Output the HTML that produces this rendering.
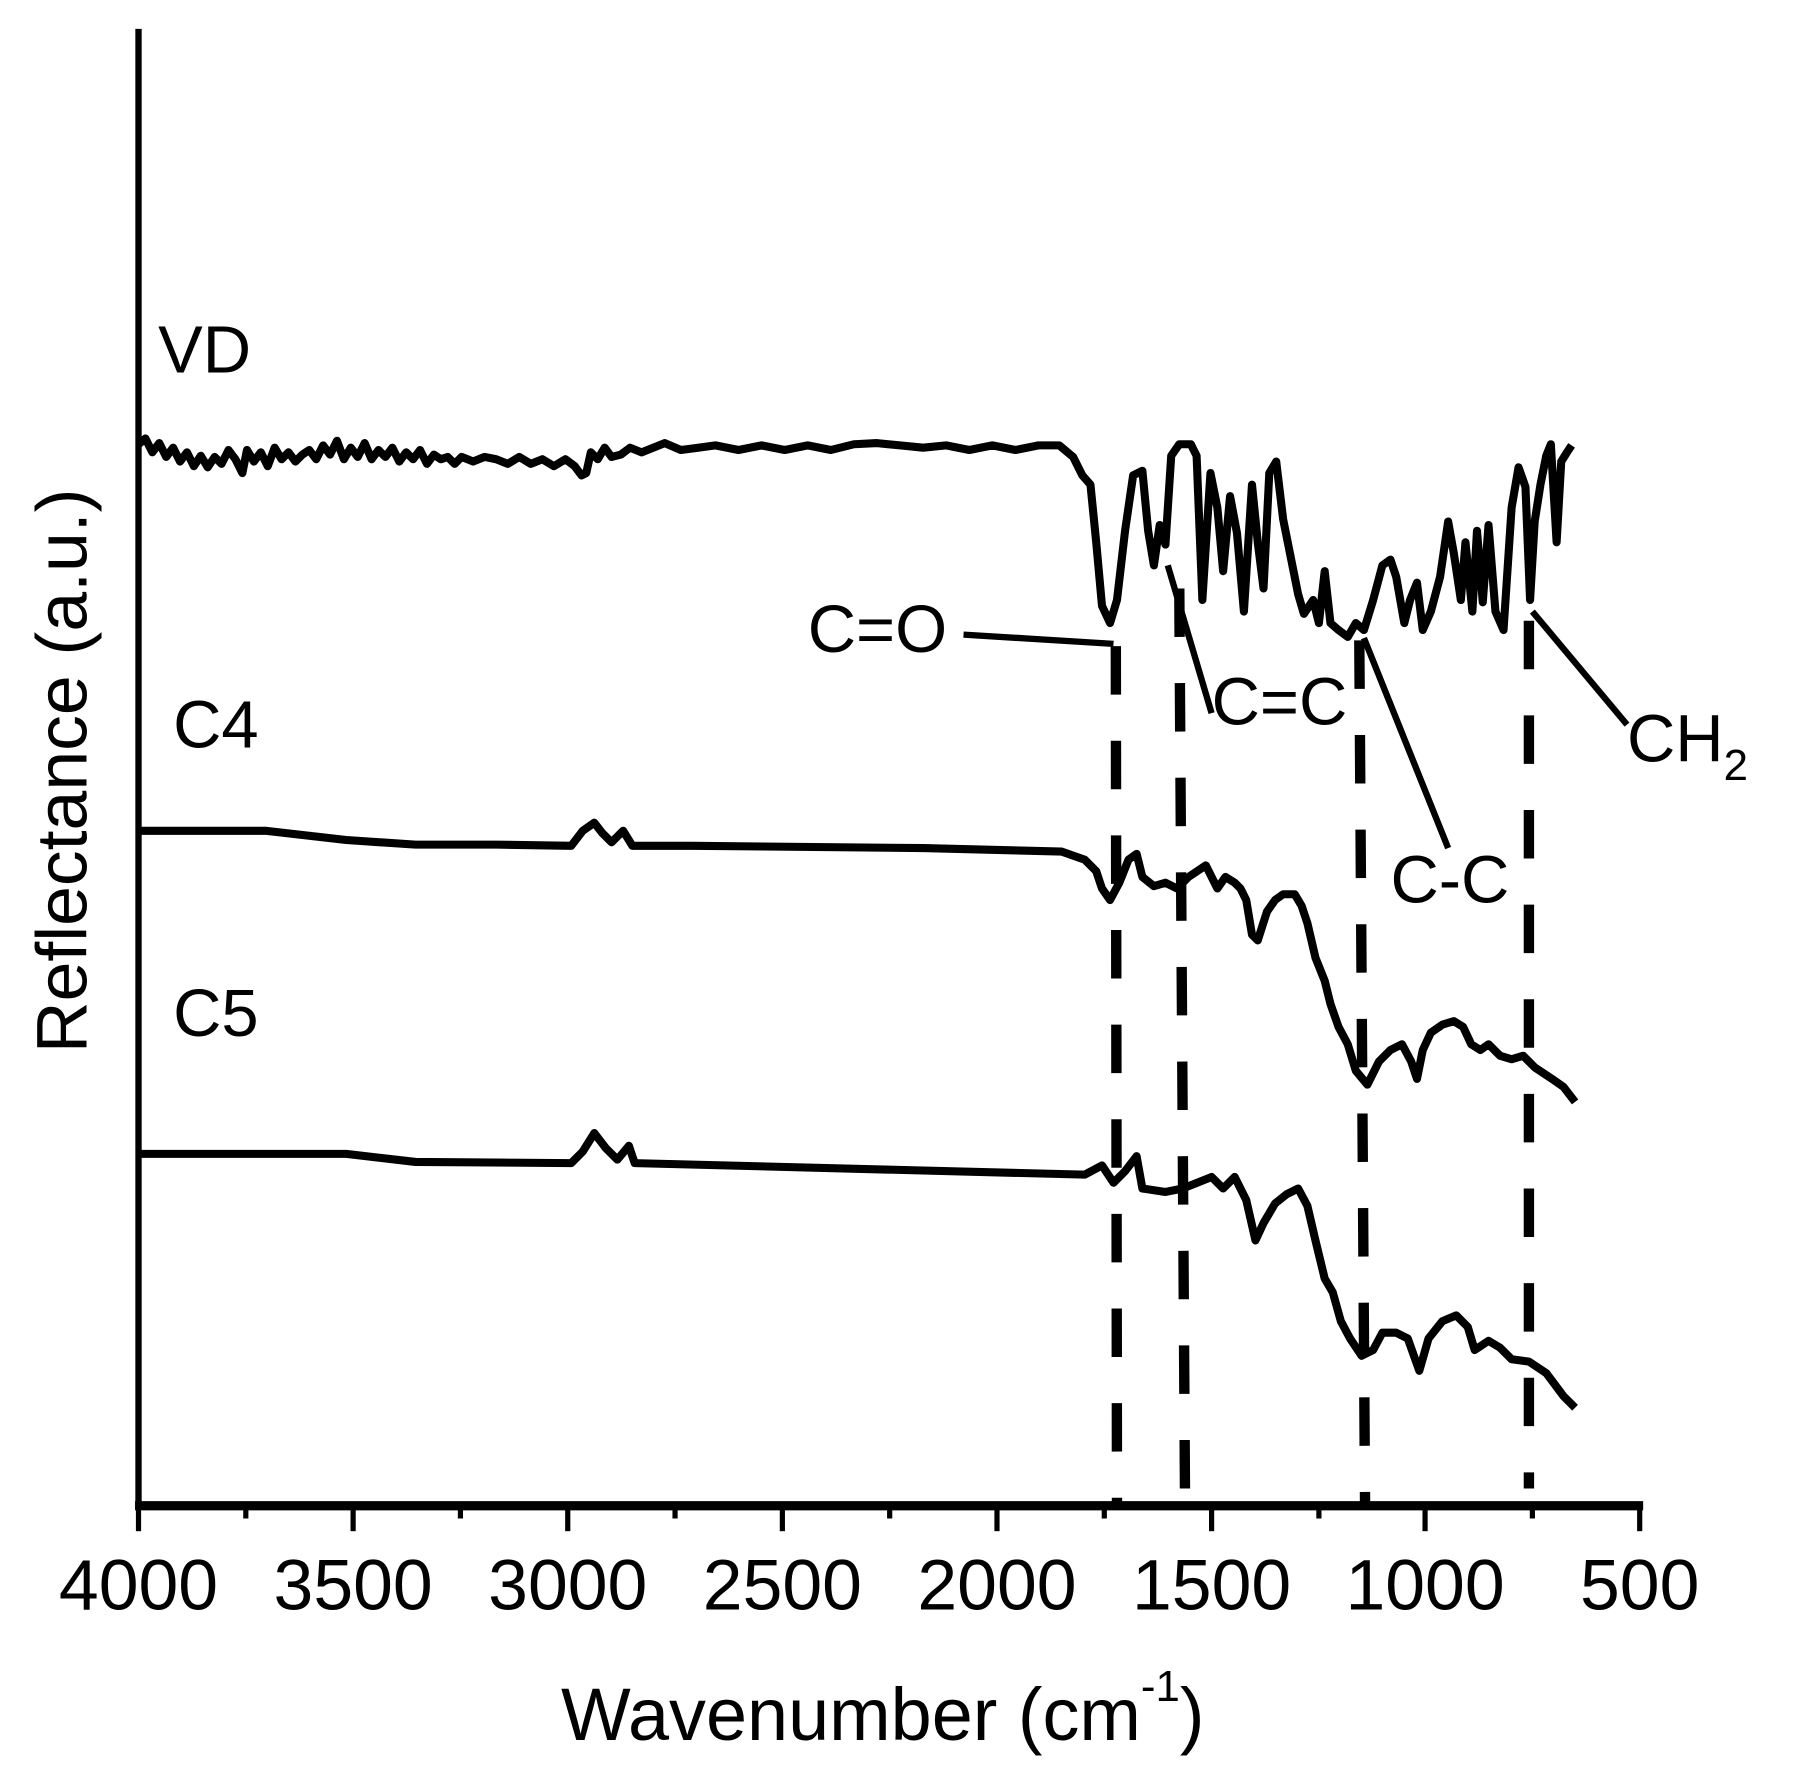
<!DOCTYPE html>
<html><head><meta charset="utf-8"><style>html,body{margin:0;padding:0;background:#fff}svg{display:block}</style></head>
<body>
<svg width="1809" height="1790" viewBox="0 0 1567.7 1551.3" xmlns="http://www.w3.org/2000/svg" font-family="Liberation Sans, Arial, sans-serif">
<rect width="1567.7" height="1551.3" fill="#fff"/>
<g stroke="#000" fill="none" stroke-linejoin="round" stroke-linecap="butt">
<line x1="120" y1="25" x2="120" y2="1308" stroke-width="5.5"/>
<line x1="117" y1="1305" x2="1424" y2="1305" stroke-width="8"/>
<g stroke-width="4.5">
<line x1="120" y1="1305" x2="120" y2="1327"/><line x1="306" y1="1305" x2="306" y2="1327"/><line x1="492" y1="1305" x2="492" y2="1327"/><line x1="678" y1="1305" x2="678" y2="1327"/><line x1="864" y1="1305" x2="864" y2="1327"/><line x1="1050" y1="1305" x2="1050" y2="1327"/><line x1="1235" y1="1305" x2="1235" y2="1327"/><line x1="1421" y1="1305" x2="1421" y2="1327"/>
<line x1="213" y1="1305" x2="213" y2="1316"/><line x1="399" y1="1305" x2="399" y2="1316"/><line x1="585" y1="1305" x2="585" y2="1316"/><line x1="771" y1="1305" x2="771" y2="1316"/><line x1="957" y1="1305" x2="957" y2="1316"/><line x1="1143" y1="1305" x2="1143" y2="1316"/><line x1="1328" y1="1305" x2="1328" y2="1316"/>
</g>
<g stroke-width="9" stroke-dasharray="42,40">
<line x1="967" y1="560" x2="968" y2="1305"/>
<line x1="1022" y1="510" x2="1027" y2="1305"/>
<line x1="1178" y1="555" x2="1183" y2="1305"/>
<line x1="1325" y1="538" x2="1325" y2="1290"/>
</g>
<g stroke-width="5.5">
<polyline points="835,550 965,558"/>
<polyline points="1012,490 1050,618"/>
<polyline points="1182,553 1255,735"/>
<polyline points="1328,530 1410,628"/>
</g>
<polyline stroke-width="7" points="120,385 126,380 132,392 138,384 144,396 150,388 156,400 162,392 168,404 174,395 180,405 186,396 192,402 198,390 204,398 210,410 214,390 220,400 226,392 232,404 238,388 244,398 250,392 256,400 262,394 268,390 274,398 280,386 286,394 292,382 298,398 304,388 310,396 316,384 322,398 328,390 334,396 340,388 346,400 352,392 358,398 364,390 370,402 376,394 382,398 388,396 394,402 400,396 410,400 420,396 430,398 440,402 450,396 460,402 470,398 480,404 490,398 498,404 504,412 508,410 512,392 518,398 524,388 530,396 538,394 546,388 556,392 566,388 576,384 590,390 605,388 620,386 640,390 660,386 680,390 700,386 720,390 740,385 760,384 780,386 800,388 820,386 840,390 860,386 880,390 900,386 918,386 930,396 938,412 945,420 950,470 955,525 962,540 968,520 975,460 982,412 990,408 995,460 1000,490 1005,455 1010,472 1015,395 1022,385 1032,385 1037,395 1042,520 1049,410 1055,440 1060,495 1066,430 1072,462 1078,530 1085,420 1090,470 1095,510 1100,410 1106,400 1112,450 1118,480 1125,515 1130,532 1138,520 1143,540 1148,495 1153,540 1160,546 1168,552 1175,540 1182,546 1190,520 1198,490 1205,485 1210,500 1217,540 1222,520 1228,505 1233,546 1240,530 1248,500 1255,452 1260,480 1266,520 1270,470 1276,530 1280,460 1285,522 1290,455 1296,530 1303,546 1310,440 1316,405 1322,422 1326,520 1330,452 1335,420 1340,395 1344,385 1349,470 1353,400 1358,392 1362,386"/>
<polyline stroke-width="7" points="120,720 230,720 300,728 360,732 430,732 495,733 505,720 515,713 522,722 530,730 540,720 548,733 600,733 800,735 920,738 940,745 950,755 955,770 962,780 970,765 978,745 985,740 990,760 1000,768 1010,765 1020,770 1030,760 1045,750 1055,770 1062,760 1070,765 1075,770 1080,780 1085,810 1090,815 1098,790 1105,780 1112,775 1122,775 1128,785 1133,800 1140,830 1148,850 1153,870 1160,890 1168,905 1175,928 1185,940 1195,920 1205,910 1215,905 1223,920 1228,935 1233,910 1240,895 1250,888 1260,885 1268,890 1275,905 1283,910 1290,905 1300,915 1310,918 1320,915 1330,925 1345,935 1355,942 1365,955"/>
<polyline stroke-width="7" points="120,1000 300,1000 360,1007 495,1008 505,998 515,982 525,995 535,1005 545,993 550,1008 940,1018 955,1010 965,1025 975,1015 985,1002 990,1030 1010,1033 1025,1030 1050,1020 1060,1030 1070,1020 1080,1040 1088,1075 1095,1060 1105,1043 1115,1035 1125,1030 1133,1045 1140,1075 1148,1108 1155,1120 1162,1145 1170,1160 1180,1175 1190,1170 1198,1155 1210,1155 1220,1160 1230,1188 1238,1160 1250,1145 1262,1140 1272,1150 1278,1170 1290,1162 1300,1168 1310,1178 1325,1180 1340,1190 1355,1210 1365,1220"/>
</g>
<g fill="#000" font-size="62" text-anchor="middle">
<text x="120" y="1395">4000</text><text x="306" y="1395">3500</text><text x="492" y="1395">3000</text><text x="678" y="1395">2500</text><text x="864" y="1395">2000</text><text x="1050" y="1395">1500</text><text x="1235" y="1395">1000</text><text x="1421" y="1395">500</text>
<text x="765" y="1508" font-size="64">Wavenumber (cm<tspan font-size="38" dy="-34">-1</tspan><tspan dy="34">)</tspan></text>
<text transform="translate(75,668) rotate(-90)" font-size="62">Reflectance (a.u.)</text>
</g>
<g fill="#000" font-size="58">
<text x="137" y="323">VD</text>
<text x="150" y="648">C4</text>
<text x="150" y="898">C5</text>
<text x="700" y="565">C=O</text>
<text x="1050" y="628">C=C</text>
<text x="1205" y="782">C-C</text>
<text x="1410" y="660">CH<tspan font-size="38" dy="16">2</tspan></text>
</g>
</svg>
</body></html>
